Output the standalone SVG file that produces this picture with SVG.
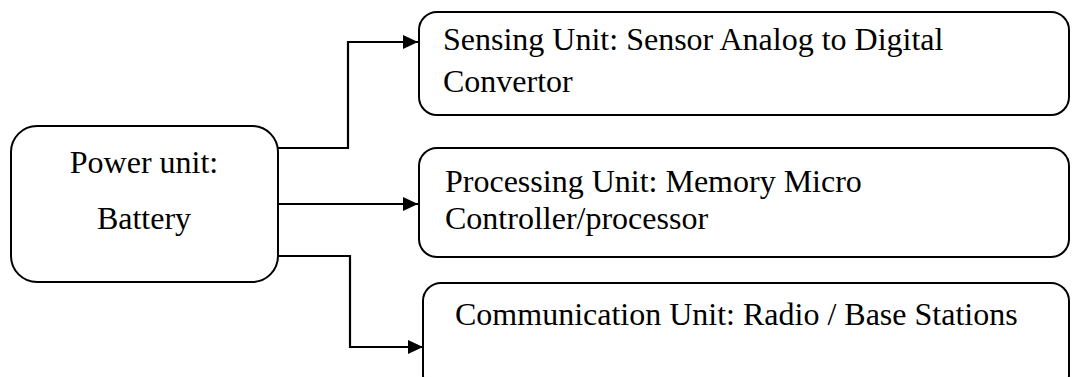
<svg xmlns="http://www.w3.org/2000/svg" width="1072" height="377" viewBox="0 0 1072 377">
  <defs>
    <marker id="arrow" viewBox="0 0 15 14" refX="15" refY="7" markerWidth="15" markerHeight="14" markerUnits="userSpaceOnUse" orient="auto">
      <path d="M0,0 L15,7 L0,14 Z" fill="#000"/>
    </marker>
    <style>
      .box { fill: #fff; stroke: #000; stroke-width: 2; }
      .link { fill: none; stroke: #000; stroke-width: 2.2; marker-end: url(#arrow); }
      .label { font-family: "Liberation Serif", "Times New Roman", serif; font-size: 32px; fill: #000; }
    </style>
  </defs>
  <rect width="1072" height="377" fill="#fff"/>

  <g id="power">
    <rect class="box" x="11" y="126" width="267" height="156" rx="26" ry="26"/>
    <text class="label" x="144" y="173" text-anchor="middle">Power unit:</text>
    <text class="label" x="144" y="229" text-anchor="middle">Battery</text>
  </g>

  <g id="sensing">
    <rect class="box" x="419" y="12" width="650" height="103" rx="18" ry="18"/>
    <text class="label" x="443" y="50">Sensing Unit: Sensor Analog to Digital</text>
    <text class="label" x="443" y="92">Convertor</text>
  </g>

  <g id="processing">
    <rect class="box" x="419" y="148" width="650" height="109" rx="18" ry="18"/>
    <text class="label" x="445" y="192">Processing Unit: Memory Micro</text>
    <text class="label" x="445" y="229">Controller/processor</text>
  </g>

  <g id="communication">
    <rect class="box" x="423" y="283" width="646" height="110" rx="18" ry="18"/>
    <text class="label" x="455" y="325">Communication Unit: Radio / Base Stations</text>
  </g>

  <g id="connectors">
    <polyline class="link" points="278,148 348,148 348,42 418,42"/>
    <polyline class="link" points="278,204 418,204"/>
    <polyline class="link" points="278,256 350,256 350,347 423,347"/>
  </g>
</svg>
